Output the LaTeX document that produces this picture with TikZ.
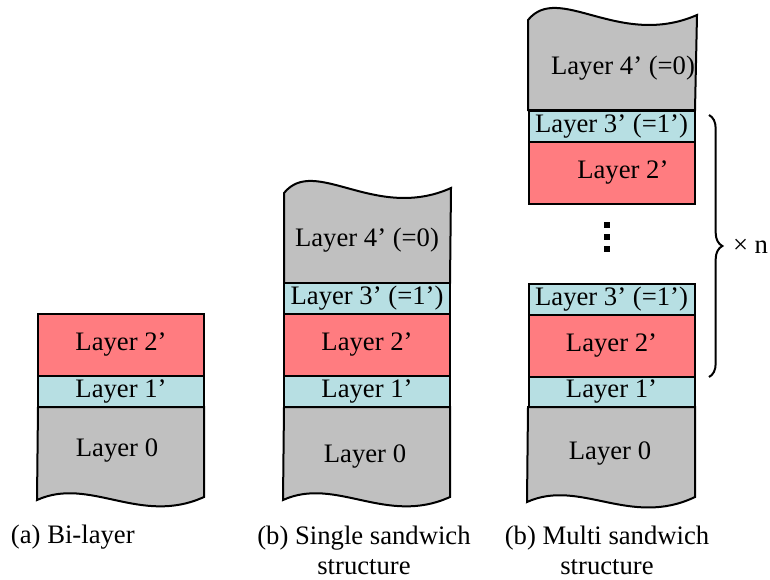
\documentclass[tikz,border=0pt]{standalone}
\usepackage{fontspec}
\setmainfont{Liberation Serif}
\usetikzlibrary{decorations.pathreplacing}
\definecolor{lred}{HTML}{FF7C80}
\definecolor{lcyan}{HTML}{B7DFE3}
\definecolor{lgray}{HTML}{C0C0C0}
\begin{document}
\begin{tikzpicture}[x=0.75pt,y=-0.75pt, font=\fontsize{20}{22.5}\selectfont,
  line width=1.5pt,
  layer/.style={draw=black, line width=1.5pt, minimum width=124.5pt, inner sep=0pt, outer sep=0pt},
  thinlayer/.style={layer, minimum height=23.25pt, fill=lcyan},
  thicklayer/.style={layer, minimum height=46.5pt, fill=lred},
  wavy/.style={draw=black, fill=lgray, line width=1.5pt},
  lbl/.style={inner sep=0pt}]
\useasboundingbox (0,0) rectangle (770,579);

% ---------- (a) Bi-layer ----------
\draw[wavy] (38,407) -- (37,500) .. controls (90,476) and (140,526) .. (204,497) -- (204,407) -- cycle;
\node[lbl] (a0) at (117,450) {Layer 0};
\node[thinlayer] (a1) at (121,391.5) {Layer 1’};
\node[thicklayer] (a2) at (121,345) {Layer 2’};

% ---------- (b) Single sandwich ----------
\draw[wavy] (284,407) -- (283,500) .. controls (336,476) and (386,526) .. (450,497) -- (450,407) -- cycle;
\node[lbl] (b0) at (365,456) {Layer 0};
\draw[wavy] (284,283) -- (284,193) .. controls (315,155) and (375,222) .. (451,188) -- (450,283) -- cycle;
\node[lbl] (b4) at (367,240) {Layer 4’ (=0)};
\node[thinlayer] (b1) at (367,391.5) {Layer 1’};
\node[thicklayer] (b2) at (367,345) {Layer 2’};
\node[thinlayer] (b3) at (367,298.5) {Layer 3’ (=1’)};

% ---------- (c) Multi sandwich ----------
\draw[wavy] (528,407) -- (527,502) .. controls (580,478) and (630,528) .. (695,497) -- (695,407) -- cycle;
\node[lbl] (c0) at (610,453) {Layer 0};
\node[thinlayer] (c1) at (611.5,391.5) {Layer 1’};
\node[thicklayer] (c2) at (611.5,345.5) {Layer 2’};
\node[thinlayer] (c3) at (611.5,299.5) {Layer 3’ (=1’)};

\fill (604,222) rectangle (610,228);
\fill (604,234) rectangle (610,240);
\fill (604,246) rectangle (610,252);

\draw[wavy] (528,110) -- (528,20) .. controls (559,-18) and (619,49) .. (697,15) -- (695,110) -- cycle;
\node[lbl] (c4t) at (623,68) {Layer 4’ (=0)};
\node[thinlayer] (c3t) at (611.5,126) {Layer 3’ (=1’)};
\node[thicklayer] (c2t) at (611.5,172.5) {\hspace*{17pt}Layer 2’};

% brace
\coordinate (br1) at (709,115);
\coordinate (br2) at (709,377);
\draw[decorate, decoration={brace, amplitude=10pt}] (br1) -- (br2);
\node[lbl, anchor=west] (n) at (732,246) {× n};

% captions
\node[lbl, anchor=west] (capa) at (10,537) {(a) Bi-layer};
\node[lbl, align=center] (capb) at (364,550) {(b) Single sandwich\\structure};
\node[lbl, align=center] (capc) at (607,550) {(b) Multi sandwich\\structure};
\end{tikzpicture}
\end{document}
